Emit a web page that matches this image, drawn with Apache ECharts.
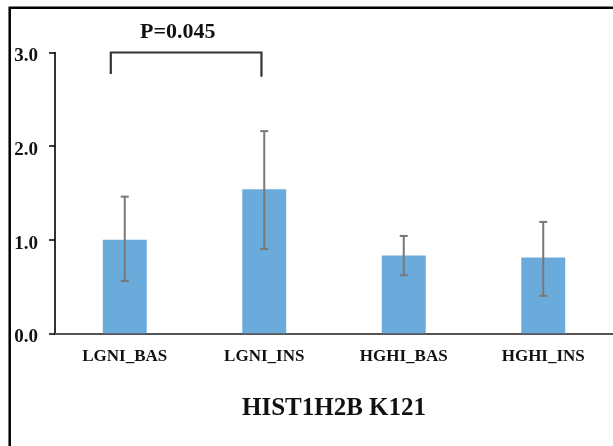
<!DOCTYPE html>
<html>
<head>
<meta charset="utf-8">
<script src="https://cdn.jsdelivr.net/npm/echarts@6/dist/echarts.min.js"></script>
<style>
  html, body { margin: 0; padding: 0; background: #fff; }
  #chart { width: 613px; height: 446px; }
</style>
</head>
<body>
<div id="chart"></div>
<script>
// Groups and relative levels of HIST1H2B K121
const categories = ['LGNI_BAS', 'LGNI_INS', 'HGHI_BAS', 'HGHI_INS'];
const means = [1.0, 1.54, 0.83, 0.81];
const errLow = [0.56, 0.90, 0.62, 0.40];
const errHigh = [1.46, 2.16, 1.04, 1.19];
const yTicks = [0, 1, 2, 3];

// Significance bracket between the first two groups
const bracketX = [-0.1, 0.98];        // positions in category units
const bracketTop = 3.0;
const bracketLegEnds = [2.77, 2.74];
const pLabel = 'P=0.045';
const pLabelPos = [0.38, 3.22];

const chartTitle = 'HIST1H2B K121';

const serif = '"Liberation Serif", "Times New Roman", serif';

const chart = echarts.init(document.getElementById('chart'));

const errData = categories.map((c, i) => [i, errLow[i], errHigh[i]]);

chart.setOption({
  animation: false,
  grid: { left: 55, right: 0, top: 52.5, bottom: 112.7, containLabel: false },
  graphic: [
    {
      type: 'rect',
      shape: { x: 9.7, y: 7.7, width: 800, height: 800 },
      style: { fill: 'none', stroke: '#000', lineWidth: 2.5 },
      silent: true
    }
  ],
  xAxis: {
    type: 'category',
    data: categories,
    boundaryGap: true,
    axisLine: { lineStyle: { color: '#555', width: 2.2 } },
    axisTick: { show: false },
    axisLabel: {
      margin: 15,
      fontFamily: serif,
      fontWeight: 'bold',
      fontSize: 17,
      color: '#111'
    },
    name: chartTitle,
    nameLocation: 'middle',
    nameGap: 63,
    nameTextStyle: {
      fontFamily: serif,
      fontWeight: 'bold',
      fontSize: 25,
      color: '#111'
    }
  },
  yAxis: {
    type: 'value',
    min: yTicks[0],
    max: yTicks[yTicks.length - 1],
    interval: 1,
    splitLine: { show: false },
    axisLine: { show: true, lineStyle: { color: '#000', width: 1.6 } },
    axisTick: { show: true, inside: false, length: 6, lineStyle: { color: '#000', width: 1.5 } },
    axisLabel: {
      margin: 17,
      color: '#111',
      formatter: v => '{v|' + v.toFixed(1) + '}',
      rich: {
        v: {
          fontFamily: serif,
          fontWeight: 'bold',
          fontSize: 19,
          color: '#111',
          padding: [8, 0, 0, 0]
        }
      }
    }
  },
  series: [
    {
      type: 'bar',
      data: means,
      barWidth: '31.5%',
      itemStyle: { color: '#6aabdc' },
      z: 2
    },
    {
      type: 'custom',
      data: errData,
      z: 3,
      renderItem: function (params, api) {
        const x = api.value(0);
        const lo = api.coord([x, api.value(1)]);
        const hi = api.coord([x, api.value(2)]);
        const cap = 4;
        const style = { stroke: '#787878', lineWidth: 2 };
        return {
          type: 'group',
          children: [
            { type: 'line', shape: { x1: hi[0], y1: hi[1], x2: lo[0], y2: lo[1] }, style },
            { type: 'line', shape: { x1: hi[0] - cap, y1: hi[1], x2: hi[0] + cap, y2: hi[1] }, style },
            { type: 'line', shape: { x1: lo[0] - cap, y1: lo[1], x2: lo[0] + cap, y2: lo[1] }, style }
          ]
        };
      }
    },
    {
      type: 'custom',
      data: [[0]],
      z: 4,
      clip: false,
      renderItem: function (params, api) {
        // category axis snaps to centres, so place fractional positions by band width
        const band = api.size([1, 0])[0];
        const x0 = api.coord([0, 0])[0];
        const px = p => x0 + p * band;
        const py = v => api.coord([0, v])[1];
        const a = [px(bracketX[0]), py(bracketTop)];
        const b = [px(bracketX[1]), py(bracketTop)];
        const aEnd = [px(bracketX[0]), py(bracketLegEnds[0])];
        const bEnd = [px(bracketX[1]), py(bracketLegEnds[1])];
        return {
          type: 'group',
          children: [
            {
              type: 'polyline',
              shape: { points: [aEnd, a, b, bEnd] },
              style: { stroke: '#333', lineWidth: 2.2, fill: null }
            },
            {
              type: 'text',
              x: px(pLabelPos[0]),
              y: py(pLabelPos[1]),
              style: {
                text: pLabel,
                textAlign: 'center',
                textVerticalAlign: 'middle',
                font: 'bold 22px ' + serif,
                fill: '#111'
              }
            }
          ]
        };
      }
    }
  ]
});
</script>
</body>
</html>
